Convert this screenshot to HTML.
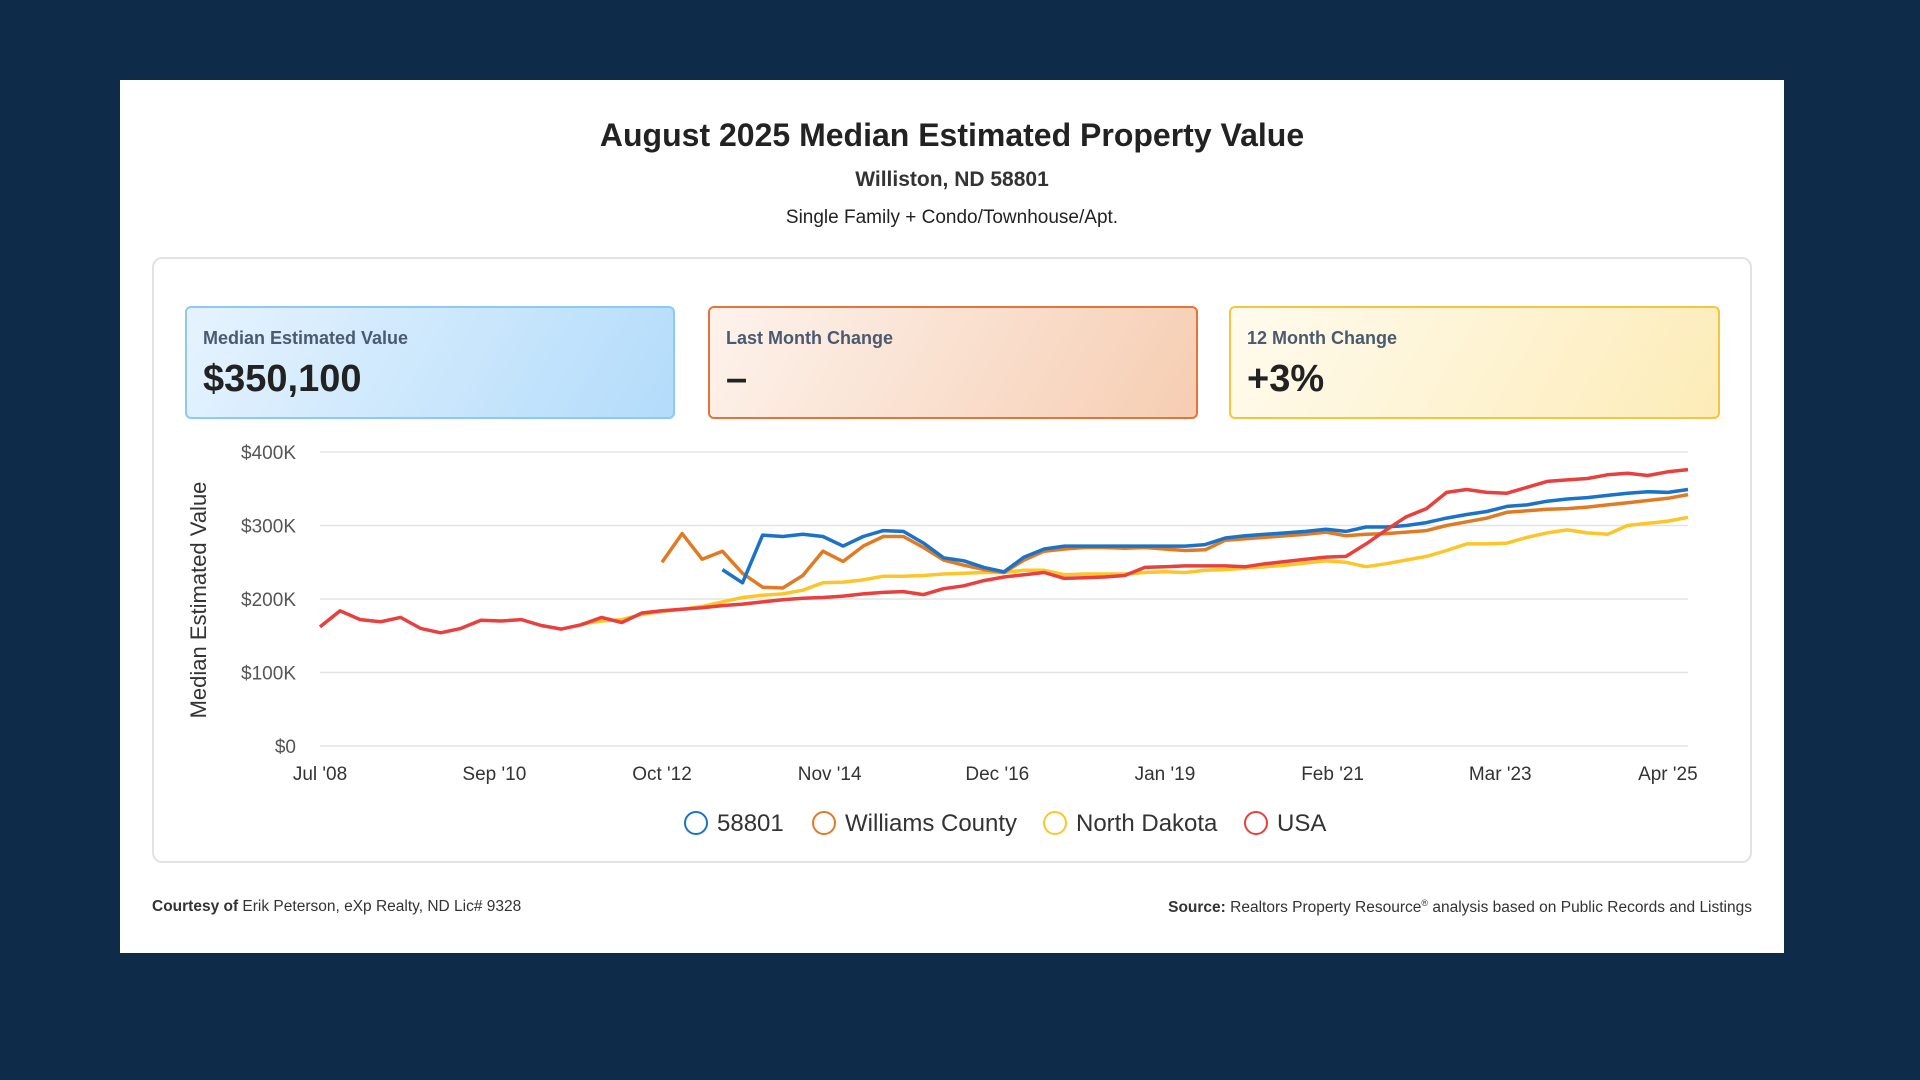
<!DOCTYPE html>
<html><head><meta charset="utf-8"><style>
*{margin:0;padding:0;box-sizing:border-box}
body{width:1920px;height:1080px;background:#0f2b4a;font-family:"Liberation Sans",sans-serif;position:relative;overflow:hidden}
#card{position:absolute;left:120px;top:80px;width:1664px;height:873px;background:#fff}
.t{position:absolute;left:0;width:100%;text-align:center;color:#222}
#panel{position:absolute;left:32px;top:177px;width:1600px;height:606px;border:2px solid #e2e2e2;border-radius:10px}
.box{position:absolute;top:306px;height:113px;width:490px;border-radius:6px;border:2px solid}
.box .lab{position:absolute;left:16px;top:20px;font-size:18px;font-weight:bold;color:#4a5a70}
.box .val{position:absolute;left:16px;top:50px;font-size:38px;font-weight:bold;color:#222}
.foot{position:absolute;top:818px;font-size:15.5px;color:#333}
</style></head><body>
<div id="card">
<div class="t" style="top:37px;font-size:32px;font-weight:bold">August 2025 Median Estimated Property Value</div>
<div class="t" style="top:88px;font-size:21px;font-weight:bold;color:#333">Williston, ND 58801</div>
<div class="t" style="top:127px;font-size:19px;color:#222">Single Family + Condo/Townhouse/Apt.</div>
<div id="panel"></div>
<div class="foot" style="left:32px"><b>Courtesy of</b> Erik Peterson, eXp Realty, ND Lic# 9328</div>
<div class="foot" style="right:32px"><b>Source:</b> Realtors Property Resource<sup style="font-size:9px">®</sup> analysis based on Public Records and Listings</div>
</div>
<div class="box" style="left:185px;background:linear-gradient(120deg,#e6f3fe,#b3dcfb);border-color:#8ccaf5"><div class="lab">Median Estimated Value</div><div class="val">$350,100</div></div>
<div class="box" style="left:708px;background:linear-gradient(120deg,#fdf3ec,#f6cdb2);border-color:#e8733a"><div class="lab">Last Month Change</div><div class="val">–</div></div>
<div class="box" style="left:1229px;width:491px;background:linear-gradient(120deg,#fffbee,#fdecb8);border-color:#f5c542"><div class="lab">12 Month Change</div><div class="val">+3%</div></div>
<svg id="chart" width="1920" height="1080" style="position:absolute;left:0;top:0"></svg>
<script>
const yTicks=[0,100,200,300,400];
const yTickLabels=["$0","$100K","$200K","$300K","$400K"];
const xTickIdx=[0,26,51,76,101,126,151,176,201];
const xTickLabels=["Jul '08","Sep '10","Oct '12","Nov '14","Dec '16","Jan '19","Feb '21","Mar '23","Apr '25"];
const monthStep=3;
const usa=[162,184,172,169,175,160,154,160,171,170,172,164,159,165,175,168,181,184,186,188,191,193,196,199,201,202,204,207,209,210,206,214,218,225,230,233,236,228,229,230,232,243,244,245,245,245,244,248,251,254,257,258,275,294,312,323,345,349,345,344,352,360,362,364,369,371,368,373,376];
const zip58801=[null,null,null,null,null,null,null,null,null,null,null,null,null,null,null,null,null,null,null,null,240,222,287,285,288,285,272,285,293,292,276,256,252,243,237,257,268,272,272,272,272,272,272,272,274,283,286,288,290,292,295,292,298,298,300,304,310,315,319,326,328,333,336,338,341,344,346,345,349];
const williams=[null,null,null,null,null,null,null,null,null,null,null,null,null,null,null,null,null,250,289,254,265,235,216,215,232,265,251,272,285,285,270,253,246,240,236,253,265,268,270,270,269,270,268,266,267,280,282,284,286,288,291,286,288,289,291,293,300,305,310,318,320,322,323,325,328,331,334,337,342];
const northDakota=[null,null,null,null,null,null,null,null,null,null,null,null,null,166,170,172,179,183,186,190,196,202,205,207,212,222,223,226,231,231,232,234,235,236,236,239,239,233,234,234,234,236,237,236,239,240,242,244,246,249,252,250,244,248,253,258,266,275,275,276,284,290,294,290,288,300,303,306,311];
const svg=document.getElementById('chart');
const NS='http://www.w3.org/2000/svg';
const X0=320,X1=1688,Y0=746,Y1=452;
function xs(m){return X0+m*(X1-X0)/204;}
function ys(v){return Y0-v*(Y0-Y1)/400;}
function mk(t,a){const e=document.createElementNS(NS,t);for(const k in a)e.setAttribute(k,a[k]);svg.appendChild(e);return e;}
yTicks.forEach((v,i)=>{
  const g=mk('line',{x1:X0,x2:X1,y1:ys(v),y2:ys(v),stroke:'#e3e3e3','stroke-width':1.5});
  
  
  const t=mk('text',{x:296,y:ys(v)+7,'text-anchor':'end','font-size':19,fill:'#555','font-family':'Liberation Sans, sans-serif'});
  t.textContent=yTickLabels[i];
  
  
});
xTickIdx.forEach((m,i)=>{
  const t=mk('text',{x:xs(m),y:780,'text-anchor':'middle','font-size':19,fill:'#333','font-family':'Liberation Sans, sans-serif'});
  t.textContent=xTickLabels[i];
  
  
});
const yt=mk('text',{x:0,y:0,transform:'translate(206,600) rotate(-90)','text-anchor':'middle','font-size':22,fill:'#333','font-family':'Liberation Sans, sans-serif'});
yt.textContent='Median Estimated Value';


const series=[[northDakota,'#fcc62a','north-dakota-line'],[williams,'#e07b24','williams-county-line'],[zip58801,'#1a73c8','zip-58801-line'],[usa,'#e8403f','usa-line']];
series.forEach(([arr,c,n])=>{
  let d='';
  arr.forEach((v,i)=>{if(v==null)return;d+=(d?'L':'M')+xs(i*monthStep).toFixed(1)+','+ys(v).toFixed(1);});
  const p=mk('path',{d:d,fill:'none',stroke:c,'stroke-width':3.5,'stroke-linejoin':'round'});
  
  
});
const legend=[['58801','#1a73c8',696],['Williams County','#e07b24',824],['North Dakota','#fcc62a',1055],['USA','#e8403f',1256]];
legend.forEach(([l,c,x])=>{
  const ci=mk('circle',{cx:x,cy:823,r:11,fill:'#fff',stroke:c,'stroke-width':2});
  
  
  const t=mk('text',{x:x+21,y:831,'font-size':24,fill:'#333','font-family':'Liberation Sans, sans-serif'});
  t.textContent=l;
  
  
});
</script>
</body></html>
